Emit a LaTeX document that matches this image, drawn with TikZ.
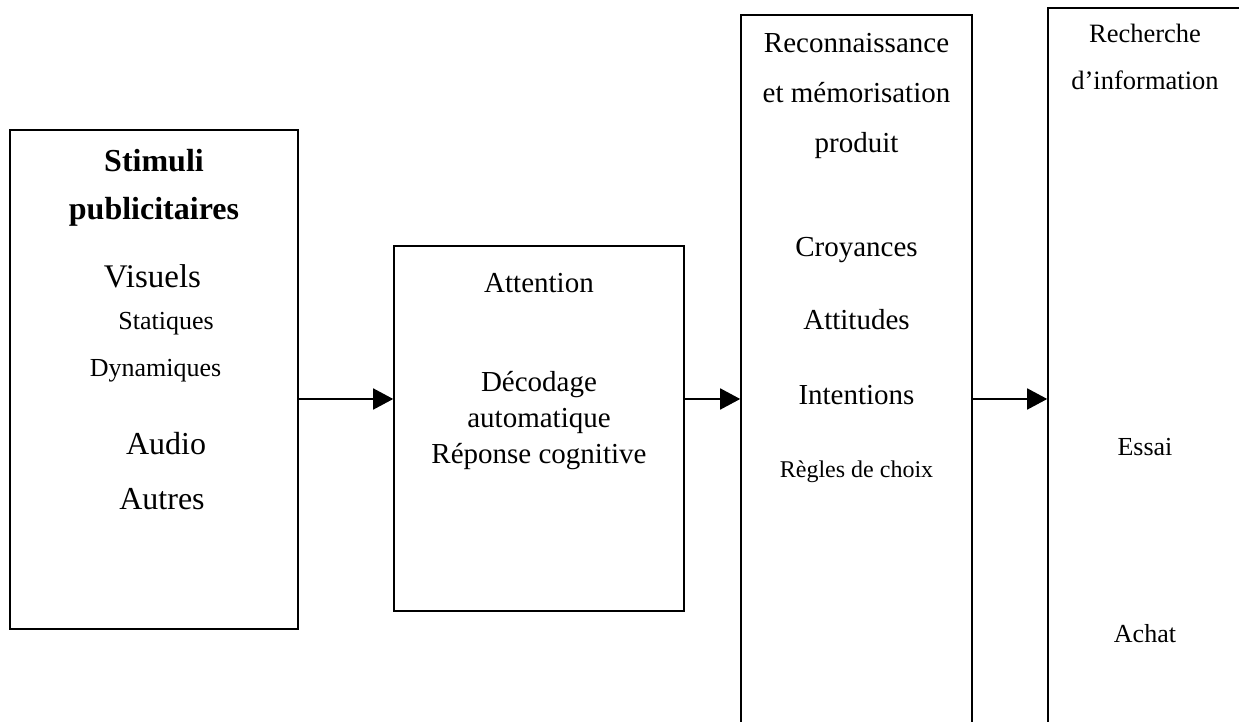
\documentclass[tikz,border=0pt]{standalone}
\usepackage{fontspec}
\setmainfont{Liberation Serif}
\usetikzlibrary{arrows.meta}
\newcommand{\fs}[1]{\fontsize{#1}{#1}\selectfont}
\begin{document}
\begin{tikzpicture}[x=1pt,y=1pt,
  box/.style={draw, line width=1.6pt, inner sep=0pt},
  lbl/.style={anchor=base, inner sep=0pt},
  arr/.style={line width=1.6pt, -{Triangle[length=20pt,width=21pt]}}]
\useasboundingbox (0,0) rectangle (1239,722);
\clip (0,0) rectangle (1239,722);
% boxes
\node[box, minimum width=288pt, minimum height=499pt] (b1) at (154,342.5) {};
\node[box, minimum width=290pt, minimum height=365pt] (b2) at (539,293.5) {};
\node[box, minimum width=231pt, minimum height=747pt] (b3) at (856.5,333.5) {};
\node[box, minimum width=194pt, minimum height=754pt] (b4) at (1145,337) {};
% box 1
\node[lbl, font=\fs{32}\bfseries] (t11) at (154,550) {Stimuli};
\node[lbl, font=\fs{32}\bfseries] (t12) at (154,502) {publicitaires};
\node[lbl, font=\fs{33}] (t13) at (152.5,434) {Visuels};
\node[lbl, font=\fs{26}] (t14) at (166,392) {Statiques};
\node[lbl, font=\fs{26}] (t15) at (155.5,345) {Dynamiques};
\node[lbl, font=\fs{32}] (t16) at (166,267) {Audio};
\node[lbl, font=\fs{32}] (t17) at (162,212) {Autres};
% box 2
\node[lbl, font=\fs{29}] (t21) at (539,429) {Attention};
\node[lbl, font=\fs{29}] (t22) at (539,330) {Décodage};
\node[lbl, font=\fs{29}] (t23) at (539,294) {automatique};
\node[lbl, font=\fs{29}] (t24) at (539,258) {Réponse cognitive};
% box 3
\node[lbl, font=\fs{29}] (t31) at (856.5,669) {Reconnaissance};
\node[lbl, font=\fs{29}] (t32) at (856.5,619) {et mémorisation};
\node[lbl, font=\fs{29}] (t33) at (856.5,569) {produit};
\node[lbl, font=\fs{29}] (t34) at (856.5,465) {Croyances};
\node[lbl, font=\fs{29}] (t35) at (856.5,392) {Attitudes};
\node[lbl, font=\fs{29}] (t36) at (856.5,317) {Intentions};
\node[lbl, font=\fs{24}] (t37) at (856.5,244) {Règles de choix};
% box 4
\node[lbl, font=\fs{26.5}] (t41) at (1145,679) {Recherche};
\node[lbl, font=\fs{26.5}] (t42) at (1145,632) {d’information};
\node[lbl, font=\fs{26}] (t43) at (1145,266) {Essai};
\node[lbl, font=\fs{26}] (t44) at (1145,79) {Achat};
% arrows
\coordinate (ay) at (0,323);
\draw[arr] (b1.east |- ay) -- (b2.west |- ay);
\draw[arr] (b2.east |- ay) -- (b3.west |- ay);
\draw[arr] (b3.east |- ay) -- (b4.west |- ay);
\end{tikzpicture}
\end{document}
